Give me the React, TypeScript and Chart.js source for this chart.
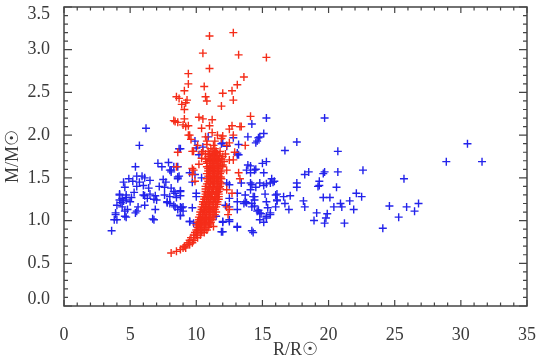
import React, { useEffect, useRef } from "react";
import { Chart, registerables } from "chart.js";

Chart.register(...registerables);

// Blue population: [R/Rsun, M/Msun]
const BLUE_POINTS: [number, number][] = [
  [6.2, 2.08], [5.7, 1.88], [5.4, 1.63], [7.1, 1.67], [7.4, 1.63], [7.9, 1.68], [8.1, 1.59], [8.6, 1.63],
  [8.7, 1.52], [8.6, 1.49], [7.5, 1.48], [7.7, 1.45], [4.9, 1.49], [5.5, 1.52], [5.9, 1.52], [6.1, 1.5],
  [6.5, 1.47], [4.5, 1.45], [5.2, 1.46], [5.7, 1.45], [4.6, 1.39], [5.5, 1.4], [6.0, 1.41], [6.4, 1.38],
  [7.2, 1.4], [7.6, 1.39], [8.1, 1.38], [8.3, 1.34], [8.8, 1.35], [4.2, 1.31], [4.7, 1.3], [5.1, 1.27],
  [6.0, 1.3], [6.5, 1.31], [6.9, 1.29], [4.2, 1.24], [4.5, 1.23], [4.7, 1.27], [5.0, 1.22], [6.3, 1.26],
  [6.8, 1.25], [7.6, 1.3], [7.8, 1.22], [8.5, 1.27], [8.8, 1.29], [4.0, 1.18], [4.4, 1.16], [4.8, 1.13],
  [5.6, 1.16], [6.1, 1.18], [6.9, 1.13], [8.0, 1.2], [8.4, 1.16], [9.0, 1.16], [8.6, 1.13], [4.6, 1.11],
  [5.4, 1.09], [8.8, 1.06], [3.9, 1.07], [3.8, 1.01], [6.7, 1.02], [4.7, 1.04], [3.6, 0.88],
  [3.9, 1.09], [4.0, 1.01], [4.2, 1.3], [4.7, 1.24], [4.6, 1.05], [5.5, 1.11], [6.8, 1.01], [6.1, 1.29],
  [7.0, 1.24], [7.8, 1.21], [8.9, 1.15], [8.3, 1.18], [9.5, 0.99], [4.4, 1.26], [4.3, 1.21], [5.3, 1.33],
  [8.0, 1.59], [8.7, 1.84], [10.2, 1.77], [12.3, 1.87],
  [9.9, 1.93], [10.5, 1.86], [11.9, 1.9], [13.2, 1.89], [14.6, 1.93], [13.2, 1.77], [13.9, 1.65],
  [14.5, 1.6], [14.1, 1.56], [8.6, 1.51], [9.7, 1.45], [8.1, 1.57], [13.4, 1.44], [14.2, 1.42],
  [14.8, 1.44], [15.1, 1.41], [12.5, 1.42], [8.8, 1.34], [8.4, 1.32], [10.0, 1.32], [13.1, 1.22],
  [13.7, 1.22], [14.4, 1.24], [14.2, 1.16], [12.2, 1.18], [15.3, 1.22], [8.8, 1.16], [9.0, 1.11],
  [8.8, 1.06], [14.7, 1.12], [14.9, 1.08], [13.1, 1.13], [12.5, 1.01], [12.0, 0.98], [11.5, 1.05],
  [13.1, 0.92], [11.9, 0.87], [14.2, 0.88], [9.8, 0.97], [14.8, 1.01], [13.1, 0.93], [12.5, 0.99],
  [13.8, 1.21], [15.3, 1.03], [13.9, 1.98], [14.7, 1.97], [8.8, 1.84], [10.0, 1.85], [10.9, 1.98],
  [12.0, 1.91], [12.8, 1.97], [13.1, 1.77], [8.3, 1.63], [9.5, 1.56], [9.9, 1.54], [10.4, 1.5],
  [13.1, 1.79], [13.8, 1.59], [12.3, 1.44], [12.5, 1.26], [13.1, 1.32], [13.7, 1.3], [14.1, 1.36],
  [14.4, 1.28], [13.6, 1.2], [12.5, 1.16], [12.0, 0.99], [12.0, 0.87], [9.5, 0.99], [10.0, 1.28],
  [9.7, 1.15], [8.0, 1.28], [15.6, 1.44], [16.0, 1.16],
  [15.3, 2.2], [14.2, 2.13], [15.1, 2.02], [14.8, 1.98], [14.5, 1.91], [15.3, 1.69], [15.0, 1.67],
  [14.4, 1.59], [15.1, 1.56], [14.1, 1.64], [15.7, 1.49], [15.9, 1.46], [15.3, 1.43], [14.5, 1.39],
  [14.1, 1.44], [19.2, 1.4], [15.2, 1.31], [16.1, 1.31], [14.3, 1.28], [14.2, 1.2], [14.4, 1.17],
  [16.1, 1.24], [15.4, 1.15], [14.6, 1.11], [14.8, 1.09], [15.6, 1.07], [15.3, 1.05], [15.1, 0.98],
  [14.3, 0.86],
  [19.7, 2.2], [17.6, 1.92], [16.7, 1.82], [20.7, 1.81], [20.7, 1.57], [19.7, 1.57], [19.6, 1.55],
  [18.5, 1.57], [18.2, 1.54], [15.8, 1.45], [17.6, 1.44], [17.6, 1.39], [19.3, 1.46], [19.3, 1.41],
  [20.6, 1.39], [16.0, 1.3], [16.6, 1.28], [17.1, 1.29], [16.1, 1.23], [16.7, 1.2], [17.0, 1.13],
  [18.1, 1.23], [18.2, 1.16], [19.6, 1.27], [20.1, 1.27], [19.1, 1.09], [19.9, 1.08], [19.8, 1.03],
  [18.9, 1.0], [19.7, 0.97], [20.4, 1.16], [20.9, 1.2], [21.0, 1.16], [21.2, 0.97], [15.6, 1.09],
  [30.5, 1.9], [28.9, 1.69], [31.6, 1.69], [22.6, 1.59], [25.7, 1.49], [22.1, 1.32], [22.5, 1.28],
  [21.6, 1.23], [21.9, 1.13], [24.6, 1.17], [25.9, 1.16], [26.8, 1.2], [26.5, 1.11], [25.3, 1.04],
  [24.1, 0.91],
];

// Red population: [R/Rsun, M/Msun]
const RED_POINTS: [number, number][] = [
  // scattered upper part
  [11.0, 3.16], [12.8, 3.2], [10.5, 2.96], [13.2, 2.94], [15.3, 2.91], [11.0, 2.78], [9.4, 2.72],
  [13.6, 2.68], [9.4, 2.6], [13.1, 2.59], [10.6, 2.57], [9.1, 2.52], [12.7, 2.52], [12.0, 2.49],
  [10.7, 2.45], [8.5, 2.45], [8.7, 2.43], [9.3, 2.41], [9.2, 2.38], [8.9, 2.36], [10.8, 2.4],
  [12.8, 2.41], [11.9, 2.34], [9.1, 2.3], [8.3, 2.17], [8.6, 2.15], [9.1, 2.19], [9.4, 2.11],
  [9.2, 2.1], [10.2, 2.21], [10.5, 2.19], [10.4, 2.08], [11.2, 2.18], [11.0, 2.11], [11.2, 2.03],
  [14.1, 2.22], [12.7, 2.11], [12.5, 2.07], [13.4, 2.1], [9.5, 2.0], [9.6, 1.95], [10.7, 1.98],
  [12.0, 1.99], [12.8, 2.0], [13.7, 1.88], [12.9, 1.8], [12.3, 1.88], [8.6, 1.8], [9.8, 1.81],
  [10.5, 1.81], [11.3, 1.88], [11.5, 1.8], [8.5, 1.63], [9.7, 1.61], [10.4, 1.73], [10.8, 1.67],
  [12.5, 1.71], [12.0, 1.65], [8.4, 2.16], [9.0, 2.12], [9.4, 2.0], [9.7, 1.81], [10.4, 1.79],
  [10.8, 1.93], [11.4, 1.93], [12.5, 1.91], [13.3, 2.1], [12.8, 1.71], [13.2, 1.56], [13.3, 1.49],
  [12.7, 1.32], [12.3, 1.16], [12.4, 1.07], [11.3, 0.93], [9.8, 1.59], [9.7, 1.54], [9.9, 1.46],
  [12.5, 1.13], [12.3, 1.36], [12.3, 1.59], [10.8, 1.89], [11.9, 1.96], [11.6, 2.0], [10.2, 1.66],
  [12.2, 1.78], [10.1, 1.88],
  // tail
  [8.1, 0.62], [8.5, 0.64], [8.8, 0.66], [9.0, 0.68], [9.2, 0.68], [9.1, 0.7], [9.3, 0.72], [9.5, 0.72],
  [9.4, 0.74], [9.7, 0.74], [9.5, 0.77], [9.8, 0.77], [9.6, 0.8], [9.9, 0.8], [10.1, 0.8], [9.8, 0.83],
  [10.0, 0.83], [10.3, 0.83], [9.9, 0.86], [10.1, 0.86], [10.4, 0.86], [10.6, 0.86],
  // dense core
  [10.0, 0.89], [10.2, 0.89], [10.5, 0.89], [10.8, 0.89], [10.1, 0.92], [10.3, 0.92], [10.6, 0.92], [10.9, 0.92],
  [10.0, 0.95], [10.2, 0.95], [10.4, 0.95], [10.7, 0.95], [11.0, 0.95], [10.1, 0.98], [10.3, 0.98], [10.5, 0.98],
  [10.8, 0.98], [11.1, 0.98], [10.2, 1.01], [10.4, 1.01], [10.6, 1.01], [10.9, 1.01], [11.2, 1.01],
  [10.2, 1.04], [10.5, 1.04], [10.7, 1.04], [11.0, 1.04], [11.3, 1.04], [10.3, 1.07], [10.5, 1.07],
  [10.8, 1.07], [11.0, 1.07], [11.4, 1.07], [10.3, 1.1], [10.6, 1.1], [10.9, 1.1], [11.1, 1.1], [11.5, 1.1],
  [10.4, 1.13], [10.6, 1.13], [10.8, 1.13], [11.1, 1.13], [11.4, 1.13], [10.4, 1.16], [10.7, 1.16],
  [11.0, 1.16], [11.2, 1.16], [11.5, 1.16], [10.5, 1.19], [10.8, 1.19], [11.0, 1.19], [11.3, 1.19],
  [11.6, 1.19], [10.5, 1.22], [10.8, 1.22], [11.1, 1.22], [11.3, 1.22], [11.6, 1.22], [10.6, 1.25],
  [10.9, 1.25], [11.2, 1.25], [11.4, 1.25], [11.7, 1.25], [10.6, 1.28], [10.9, 1.28], [11.1, 1.28],
  [11.4, 1.28], [11.7, 1.28], [10.7, 1.31], [11.0, 1.31], [11.2, 1.31], [11.5, 1.31], [11.7, 1.31],
  [10.7, 1.34], [11.0, 1.34], [11.3, 1.34], [11.5, 1.34], [11.7, 1.34], [10.7, 1.37], [11.0, 1.37],
  [11.3, 1.37], [11.5, 1.37], [11.8, 1.37], [10.7, 1.4], [11.0, 1.4], [11.3, 1.4], [11.6, 1.4], [11.8, 1.4],
  [10.8, 1.43], [11.1, 1.43], [11.4, 1.43], [11.6, 1.43], [11.9, 1.43], [10.9, 1.46], [11.2, 1.46],
  [11.5, 1.46], [11.7, 1.46], [10.8, 1.49], [11.1, 1.49], [11.3, 1.49], [11.6, 1.49], [11.9, 1.49],
  [10.9, 1.52], [11.2, 1.52], [11.4, 1.52], [11.7, 1.52], [10.8, 1.55], [11.0, 1.55], [11.3, 1.55],
  [11.5, 1.55], [11.8, 1.55], [10.9, 1.58], [11.2, 1.58], [11.4, 1.58], [11.7, 1.58], [10.9, 1.61],
  [11.1, 1.61], [11.3, 1.61], [11.6, 1.61], [11.0, 1.64], [11.2, 1.64], [11.5, 1.64], [11.8, 1.64],
  [11.0, 1.67], [11.3, 1.67], [11.6, 1.67], [11.1, 1.7], [11.4, 1.7], [11.7, 1.7], [11.2, 1.73],
  [11.5, 1.73], [11.3, 1.76], [11.6, 1.76], [11.4, 1.79],
  [10.35, 0.9], [10.65, 0.9], [10.25, 0.97], [10.6, 0.97], [10.95, 0.97], [10.35, 1.03], [10.75, 1.03],
  [11.1, 1.03], [10.45, 1.09], [10.75, 1.09], [11.25, 1.09], [10.55, 1.15], [10.9, 1.15], [11.3, 1.15],
  [10.65, 1.21], [10.95, 1.21], [11.45, 1.21], [10.75, 1.27], [11.05, 1.27], [11.5, 1.27], [10.85, 1.33],
  [11.15, 1.33], [11.6, 1.33], [10.95, 1.39], [11.25, 1.39], [11.7, 1.39], [11.05, 1.45], [11.35, 1.45],
  [11.8, 1.45], [11.0, 1.51], [11.3, 1.51], [11.55, 1.51], [11.85, 1.51], [11.05, 1.57], [11.35, 1.57],
  [11.6, 1.57], [11.9, 1.57], [10.8, 1.63], [11.1, 1.63], [11.4, 1.63], [11.7, 1.63], [11.95, 1.63],
  [10.8, 1.69], [11.2, 1.69], [11.5, 1.69], [11.85, 1.69], [12.1, 1.69], [10.7, 1.72], [11.0, 1.72],
  [11.3, 1.72], [11.6, 1.72], [11.9, 1.72], [10.9, 1.75], [11.1, 1.75], [11.4, 1.75], [11.75, 1.75],
  [12.0, 1.75], [10.7, 1.78], [11.0, 1.78], [11.3, 1.78], [11.6, 1.78], [10.9, 1.81], [11.2, 1.81],
  [11.5, 1.81], [11.8, 1.81], [11.1, 1.84], [11.4, 1.84],
];

const X_MIN = 0;
const X_MAX = 35;
const X_MAJOR = 5;
const X_MINOR = 1;
const Y_MIN = 0;
const Y_MAX = 3.5;
const Y_MAJOR = 0.5;
const Y_MINOR = 0.1;
const X_TITLE = "R/R\u2609";
const Y_TITLE = "M/M\u2609";

const BLUE = "rgb(35,35,235)";
const RED = "rgb(245,45,25)";
const AXIS = "#444444";
const LABEL = "#3a3a3a";
const FONT = "'Liberation Serif', 'DejaVu Serif', serif";
const FONT_SIZE = 18;

const frameTicks = {
  id: "frameTicks",
  afterDatasetsDraw(chart: any) {
    const { ctx, chartArea } = chart;
    const { left, right, top, bottom } = chartArea;
    const xs = chart.scales.x;
    const ys = chart.scales.y;
    ctx.save();
    ctx.strokeStyle = AXIS;
    ctx.lineWidth = 1.5;
    ctx.strokeRect(left, top, right - left, bottom - top);
    ctx.lineWidth = 1.2;
    ctx.beginPath();
    const nx = Math.round((X_MAX - X_MIN) / X_MINOR);
    for (let i = 0; i <= nx; i++) {
      const v = X_MIN + i * X_MINOR;
      const px = xs.getPixelForValue(v);
      const major = Math.abs(v / X_MAJOR - Math.round(v / X_MAJOR)) < 1e-6;
      const len = major ? 6 : 3.5;
      ctx.moveTo(px, bottom);
      ctx.lineTo(px, bottom - len);
      ctx.moveTo(px, top);
      ctx.lineTo(px, top + len);
    }
    const ny = Math.round((Y_MAX - Y_MIN) / Y_MINOR);
    for (let i = 0; i <= ny; i++) {
      const v = Y_MIN + i * Y_MINOR;
      const py = ys.getPixelForValue(v);
      const major = Math.abs(v / Y_MAJOR - Math.round(v / Y_MAJOR)) < 1e-6;
      const len = major ? 8 : 4;
      ctx.moveTo(left, py);
      ctx.lineTo(left + len, py);
      ctx.moveTo(right, py);
      ctx.lineTo(right - len, py);
    }
    ctx.stroke();
    ctx.restore();
  },
};

const zeroPad = (s: any) => {
  s.paddingTop = 0;
  s.paddingBottom = 0;
  s.paddingLeft = 0;
  s.paddingRight = 0;
};

export default function App() {
  const canvasRef = useRef<HTMLCanvasElement | null>(null);

  useEffect(() => {
    document.body.style.margin = "0";
    const canvas = canvasRef.current;
    if (!canvas) return;
    const toPts = (arr: [number, number][]) => arr.map(([x, y]) => ({ x, y }));
    const chart = new Chart(canvas, {
      type: "scatter",
      data: {
        datasets: [
          {
            label: "blue",
            data: toPts(BLUE_POINTS),
            pointStyle: "cross",
            pointRadius: 4,
            borderColor: BLUE,
            backgroundColor: BLUE,
            pointBorderWidth: 1.4,
            order: 1,
          },
          {
            label: "red",
            data: toPts(RED_POINTS),
            pointStyle: "cross",
            pointRadius: 4,
            borderColor: RED,
            backgroundColor: RED,
            pointBorderWidth: 1.4,
            order: 0,
          },
        ],
      },
      options: {
        responsive: false,
        animation: false,
        devicePixelRatio: 1,
        layout: { padding: { top: 7, right: 12, left: 0, bottom: 0 } },
        plugins: { legend: { display: false }, tooltip: { enabled: false } },
        scales: {
          x: {
            type: "linear",
            min: X_MIN,
            max: X_MAX,
            grid: { display: false },
            border: { display: false },
            ticks: {
              stepSize: X_MAJOR,
              color: LABEL,
              font: { family: FONT, size: FONT_SIZE },
              padding: 10,
              maxRotation: 0,
              callback: (v: any) => String(v),
            },
            title: {
              display: true,
              text: X_TITLE,
              color: LABEL,
              font: { family: FONT, size: FONT_SIZE },
              padding: { top: 0, bottom: 0 },
            },
            afterFit: (s: any) => {
              s.height = 55;
              zeroPad(s);
            },
          },
          y: {
            type: "linear",
            min: Y_MIN,
            max: Y_MAX,
            grid: { display: false },
            border: { display: false },
            ticks: {
              stepSize: Y_MAJOR,
              color: LABEL,
              font: { family: FONT, size: FONT_SIZE, lineHeight: 0.8 },
              padding: 6,
              callback: (v: any) => {
                const s = Number(v).toFixed(1);
                if (Math.abs(v - Y_MAX) < 1e-6) return ["", s];
                if (Math.abs(v - Y_MIN) < 1e-6) return [s, ""];
                return s;
              },
            },
            title: {
              display: true,
              text: Y_TITLE,
              color: LABEL,
              font: { family: FONT, size: FONT_SIZE },
              padding: { top: 2, bottom: 0 },
            },
            afterFit: (s: any) => {
              s.width = 64;
              zeroPad(s);
            },
          },
        },
      },
      plugins: [frameTicks],
    });
    return () => chart.destroy();
  }, []);

  return (
    <div style={{ width: 539, height: 361 }}>
      <canvas ref={canvasRef} width={539} height={361} style={{ display: "block" }} />
    </div>
  );
}
